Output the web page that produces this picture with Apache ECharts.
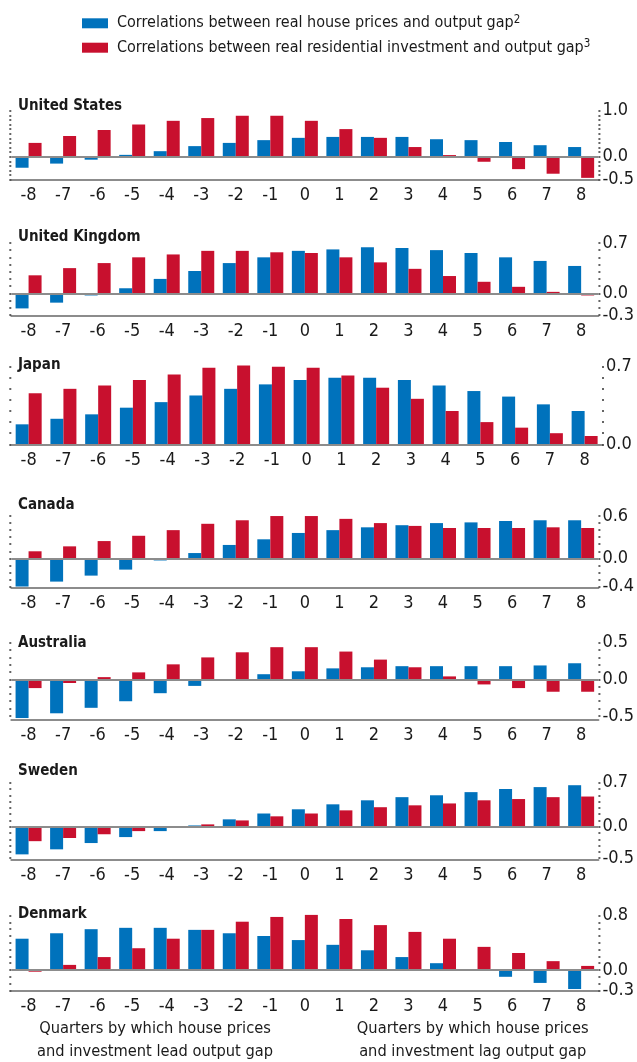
<!DOCTYPE html>
<html>
<head>
<meta charset="utf-8">
<script src="https://cdn.jsdelivr.net/npm/echarts@6/dist/echarts.min.js"></script>
<style>
  html, body { margin: 0; padding: 0; background: #fff; }
  #chart { width: 637px; height: 1062px; }
</style>
</head>
<body>
<div id="chart"></div>
<script>
"use strict";
var quarters = ['-8', '-7', '-6', '-5', '-4', '-3', '-2', '-1', '0', '1', '2', '3', '4', '5', '6', '7', '8'];

var priceName = 'Correlations between real house prices and output gap';
var investName = 'Correlations between real residential investment and output gap';

// house prices (blue) / residential investment (red)
var usPrices = [-0.24, -0.15, -0.065, 0.04, 0.12, 0.23, 0.30, 0.36, 0.41, 0.43, 0.43, 0.43, 0.38, 0.36, 0.32, 0.25, 0.21];
var usInvest = [0.30, 0.45, 0.58, 0.70, 0.78, 0.84, 0.89, 0.89, 0.78, 0.60, 0.41, 0.21, 0.035, -0.11, -0.27, -0.37, -0.46];
var ukPrices = [-0.21, -0.13, -0.03, 0.07, 0.20, 0.31, 0.42, 0.50, 0.59, 0.61, 0.64, 0.63, 0.60, 0.56, 0.50, 0.45, 0.38];
var ukInvest = [0.25, 0.35, 0.42, 0.50, 0.54, 0.59, 0.59, 0.57, 0.56, 0.50, 0.43, 0.34, 0.24, 0.16, 0.09, 0.02, -0.03];
var jpPrices = [0.18, 0.23, 0.27, 0.33, 0.38, 0.44, 0.50, 0.54, 0.58, 0.60, 0.60, 0.58, 0.53, 0.48, 0.43, 0.36, 0.30];
var jpInvest = [0.46, 0.50, 0.53, 0.58, 0.63, 0.69, 0.71, 0.70, 0.69, 0.62, 0.51, 0.41, 0.30, 0.20, 0.15, 0.10, 0.075];
var caPrices = [-0.40, -0.33, -0.245, -0.16, -0.03, 0.075, 0.19, 0.27, 0.36, 0.40, 0.44, 0.47, 0.50, 0.51, 0.53, 0.54, 0.54];
var caInvest = [0.10, 0.17, 0.245, 0.32, 0.40, 0.49, 0.54, 0.60, 0.60, 0.56, 0.50, 0.46, 0.43, 0.43, 0.43, 0.44, 0.43];
var auPrices = [-0.53, -0.465, -0.39, -0.30, -0.19, -0.09, 0.0, 0.07, 0.11, 0.15, 0.165, 0.18, 0.18, 0.18, 0.18, 0.19, 0.22];
var auInvest = [-0.12, -0.05, 0.03, 0.095, 0.205, 0.30, 0.37, 0.44, 0.44, 0.38, 0.27, 0.165, 0.04, -0.07, -0.12, -0.17, -0.17];
var swPrices = [-0.44, -0.36, -0.26, -0.165, -0.07, 0.02, 0.117, 0.21, 0.277, 0.356, 0.42, 0.47, 0.50, 0.55, 0.60, 0.63, 0.66];
var swInvest = [-0.23, -0.18, -0.12, -0.07, -0.005, 0.037, 0.10, 0.165, 0.21, 0.26, 0.31, 0.34, 0.37, 0.42, 0.44, 0.47, 0.48];
var dkPrices = [0.46, 0.54, 0.60, 0.62, 0.62, 0.59, 0.54, 0.50, 0.44, 0.37, 0.29, 0.19, 0.10, -0.005, -0.10, -0.19, -0.28];
var dkInvest = [-0.025, 0.075, 0.19, 0.32, 0.46, 0.59, 0.71, 0.78, 0.81, 0.75, 0.66, 0.56, 0.46, 0.34, 0.25, 0.13, 0.06];

// right-hand axis labels per panel
var usLabels = [-0.5, 0, 1.0];
var ukLabels = [-0.3, 0, 0.7];
var jpLabels = [0, 0.7];
var caLabels = [-0.4, 0, 0.6];
var auLabels = [-0.5, 0, 0.5];
var swLabels = [-0.5, 0, 0.7];
var dkLabels = [-0.3, 0, 0.8];

var panels = [
    {title: 'United States',  prices: usPrices, invest: usInvest, labels: usLabels, min: -0.5,  max: 1.05, top: 108.4, height: 71.3, titleTop: 99},
    {title: 'United Kingdom', prices: ukPrices, invest: ukInvest, labels: ukLabels, min: -0.31, max: 0.72, top: 241.5, height: 74.1, titleTop: 230},
    {title: 'Japan',          prices: jpPrices, invest: jpInvest, labels: jpLabels, min: 0,     max: 0.73, top: 363.3, height: 81,   titleTop: 357.5},
    {title: 'Canada',         prices: caPrices, invest: caInvest, labels: caLabels, min: -0.415, max: 0.68, top: 510.4, height: 77.2, titleTop: 497.5},
    {title: 'Australia',      prices: auPrices, invest: auInvest, labels: auLabels, min: -0.55, max: 0.5,  top: 642.8, height: 76.7, titleTop: 635.5},
    {title: 'Sweden',         prices: swPrices, invest: swInvest, labels: swLabels, min: -0.52, max: 0.7,  top: 782.7, height: 76.7, titleTop: 764},
    {title: 'Denmark',        prices: dkPrices, invest: dkInvest, labels: dkLabels, min: -0.3,  max: 0.86, top: 911.5, height: 78.9, titleTop: 906.5}
];

var FONT = '"Liberation Sans Narrow", "DejaVu Sans Condensed", "Roboto", sans-serif';
var BLUE = '#0072bc';
var RED = '#c8102e';
var INK = '#1a1a1a';

function tenths(min, max) {
    var out = [];
    for (var k = Math.ceil(min * 10 - 1e-6); k <= Math.floor(max * 10 + 1e-6); k++) out.push(k / 10);
    return out;
}

var grids = [], xAxes = [], yAxes = [], series = [], titles = [];

panels.forEach(function (p, i) {
    grids.push({left: 11.3, right: 35, top: p.top, height: p.height});
    titles.push({
        text: p.title, left: 18, top: p.titleTop, padding: 0,
        textStyle: {fontFamily: FONT, fontSize: 15, fontWeight: 'bold', color: INK}
    });
    xAxes.push({
        type: 'category', gridIndex: i, data: quarters,
        axisLine: {onZero: false, lineStyle: {color: '#8c8c8c', width: 2}},
        axisTick: {alignWithLabel: true, length: 4, lineStyle: {color: '#444'}},
        axisLabel: {fontFamily: FONT, fontSize: 18, color: INK, margin: 7, interval: 0},
        splitLine: {show: false}
    });
    var tk = tenths(p.min, p.max);
    // right axis with labels
    yAxes.push({
        type: 'value', gridIndex: i, position: 'right', min: p.min, max: p.max,
        axisLine: {show: false},
        axisTick: {show: true, length: 2, customValues: tk, lineStyle: {color: '#333', width: 1.5}},
        axisLabel: {
            customValues: p.labels, margin: 4, fontFamily: FONT, fontSize: 18, color: INK,
            formatter: function (v) { return (+v).toFixed(1); }
        },
        splitLine: {show: false}
    });
    // left axis, ticks only
    yAxes.push({
        type: 'value', gridIndex: i, position: 'left', min: p.min, max: p.max,
        axisLine: {show: false},
        axisTick: {show: true, length: 2, customValues: tk, lineStyle: {color: '#333', width: 1.5}},
        axisLabel: {show: false},
        splitLine: {show: false}
    });
    series.push({
        name: priceName, type: 'bar', xAxisIndex: i, yAxisIndex: i * 2,
        data: p.prices, barWidth: 13, barGap: '0%', itemStyle: {color: BLUE},
        markLine: {
            silent: true, symbol: 'none', label: {show: false},
            lineStyle: {color: '#8c8c8c', width: 2, type: 'solid'},
            data: [{yAxis: 0}]
        }
    });
    series.push({
        name: investName, type: 'bar', xAxisIndex: i, yAxisIndex: i * 2,
        data: p.invest, barWidth: 13, barGap: '0%', itemStyle: {color: RED}
    });
});

var chart = echarts.init(document.getElementById('chart'));
chart.setOption({
    animation: false,
    title: titles,
    legend: {
        orient: 'vertical', left: 82, top: 13.8, padding: 0,
        itemWidth: 26, itemHeight: 10, itemGap: 4.4,
        icon: 'rect',
        data: [priceName, investName],
        formatter: function (name) {
            return '{t|' + name + '}{s|' + (name === priceName ? '2' : '3') + '}';
        },
        textStyle: {
            rich: {
                t: {fontFamily: FONT, fontSize: 16, color: INK, lineHeight: 19, padding: [0, 0, 0, 4]},
                s: {fontFamily: FONT, fontSize: 11.5, color: INK, lineHeight: 19, verticalAlign: 'top', padding: [0, 0, 8, 0]}
            }
        }
    },
    grid: grids,
    xAxis: xAxes,
    yAxis: yAxes,
    series: series,
    graphic: [
        {type: 'text', x: 155, y: 1016.6, style: {
            text: 'Quarters by which house prices\nand investment lead output gap',
            textAlign: 'center', textVerticalAlign: 'top', lineHeight: 23.4,
            font: '16.3px ' + FONT, fill: INK}},
        {type: 'text', x: 472.7, y: 1016.6, style: {
            text: 'Quarters by which house prices\nand investment lag output gap',
            textAlign: 'center', textVerticalAlign: 'top', lineHeight: 23.4,
            font: '16.3px ' + FONT, fill: INK}}
    ]
});
</script>
</body>
</html>
